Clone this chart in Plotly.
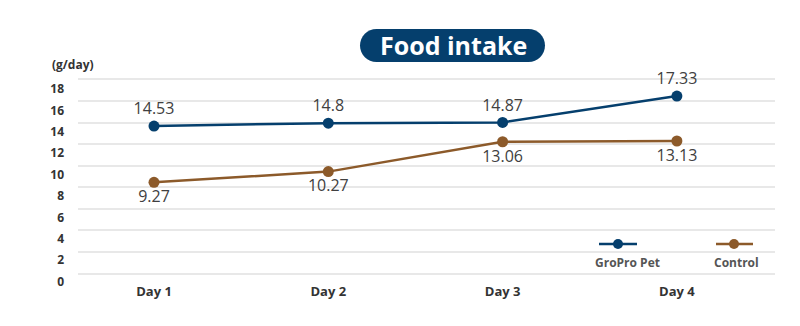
import plotly.graph_objects as go

# Daily food intake (g/day) per group
days = ["Day 1", "Day 2", "Day 3", "Day 4"]
gropro = [14.53, 14.8, 14.87, 17.33]
control = [9.27, 10.27, 13.06, 13.13]
y_ticks = [0, 2, 4, 6, 8, 10, 12, 14, 16, 18]

NAVY = "#053f6d"
BROWN = "#8c5a2a"
W, H = 800, 326


def px(x):
    return x / W


def py(y):
    return 1 - y / H


fig = go.Figure()

fig.add_trace(go.Scatter(
    x=days, y=gropro, name="GroPro Pet", mode="lines+markers+text",
    line=dict(color=NAVY, width=2.5), marker=dict(color=NAVY, size=11),
    text=[f"{v:g}" for v in gropro], textposition="top center",
    textfont=dict(family="Open Sans", size=16, color="#404040"),
    cliponaxis=False, showlegend=False,
))
fig.add_trace(go.Scatter(
    x=days, y=control, name="Control", mode="lines+markers+text",
    line=dict(color=BROWN, width=2.5), marker=dict(color=BROWN, size=11),
    text=[f"{v:g}" for v in control], textposition="bottom center",
    textfont=dict(family="Open Sans", size=16, color="#404040"),
    cliponaxis=False, showlegend=False,
))

# plot area in pixels
X0, X1 = 78, 775
Y_TOP, Y_BOT = 70, 292

tick_font = dict(family="Open Sans", size=12, color="#333333")

fig.update_layout(
    width=W, height=H,
    margin=dict(l=0, r=0, t=0, b=0),
    paper_bgcolor="white", plot_bgcolor="rgba(0,0,0,0)",
    showlegend=False,
    xaxis=dict(
        domain=[px(X0), px(X1)],
        range=[(X0 - 154) / 174.3, (X1 - 154) / 174.3],
        type="category", showgrid=False, zeroline=False, showline=False,
        anchor="free", position=py(282), automargin=False,
        tickfont=dict(family="Open Sans", size=13, color="#333333"),
        ticklabelstandoff=0,
    ),
    yaxis=dict(
        domain=[py(Y_BOT), py(Y_TOP)],
        range=[(281.5 - Y_BOT) / 10.7, (281.5 - Y_TOP) / 10.7],
        tickvals=y_ticks, ticktext=[f"<b>{t}</b>" for t in y_ticks],
        tickfont=tick_font, showgrid=False, zeroline=False, showline=False,
        ticklabelstandoff=13, automargin=False,
    ),
    yaxis2=dict(
        domain=[py(Y_BOT), py(Y_TOP)], overlaying="y", anchor="x",
        range=[(273.5 - Y_BOT) / 10.78, (273.5 - Y_TOP) / 10.78],
        tickvals=y_ticks, showticklabels=False,
        showgrid=True, gridcolor="#e8e8e8", gridwidth=1.6,
        zeroline=False, showline=False, automargin=False,
    ),
)
fig.update_xaxes(ticktext=[f"<b>{d}</b>" for d in days], tickvals=days)

# grid carrier so the secondary axis is drawn
fig.add_trace(go.Scatter(x=[days[0]], y=[None], yaxis="y2", showlegend=False,
                         hoverinfo="skip"))


def label(x, y, text, font):
    fig.add_annotation(x=px(x), y=py(y), xref="paper", yref="paper",
                       xanchor="center", yanchor="middle",
                       text=text, showarrow=False, font=font)


# title pill
x_l, x_r, y_t, y_b = px(360), px(545), py(29), py(62)
r = 16.5
rx, ry = px(r), r / H
pill = (f"M {x_l + rx},{y_t} L {x_r - rx},{y_t} "
        f"C {x_r - rx + rx * 0.55},{y_t} {x_r},{y_t - ry * 0.45} {x_r},{(y_t + y_b) / 2} "
        f"C {x_r},{y_b + ry * 0.45} {x_r - rx + rx * 0.55},{y_b} {x_r - rx},{y_b} "
        f"L {x_l + rx},{y_b} "
        f"C {x_l + rx * 0.45},{y_b} {x_l},{y_b + ry * 0.45} {x_l},{(y_t + y_b) / 2} "
        f"C {x_l},{y_t - ry * 0.45} {x_l + rx * 0.45},{y_t} {x_l + rx},{y_t} Z")
fig.add_shape(type="path", path=pill, xref="paper", yref="paper",
              fillcolor=NAVY, line=dict(width=0), layer="below")
label(453, 45.5, "<b>Food intake</b>",
      dict(family="Open Sans", size=25, color="white"))

# unit label
label(73, 65, "<b>(g/day)</b>", tick_font)

# legend: swatch above label
legend_items = [("GroPro Pet", NAVY, 599, 637, 618, 627),
                ("Control", BROWN, 716, 753, 734, 736)]
for name, color, lx0, lx1, mx, tx in legend_items:
    fig.add_shape(type="line", xref="paper", yref="paper",
                  x0=px(lx0), x1=px(lx1), y0=py(244), y1=py(244),
                  line=dict(color=color, width=2.5))
    fig.add_shape(type="circle", xref="paper", yref="paper",
                  x0=px(mx - 5), x1=px(mx + 5), y0=py(249), y1=py(239),
                  fillcolor=color, line=dict(width=0))
    label(tx, 262, f"<b>{name}</b>",
          dict(family="Open Sans", size=12, color="#555555"))

fig.write_html("out.html")
